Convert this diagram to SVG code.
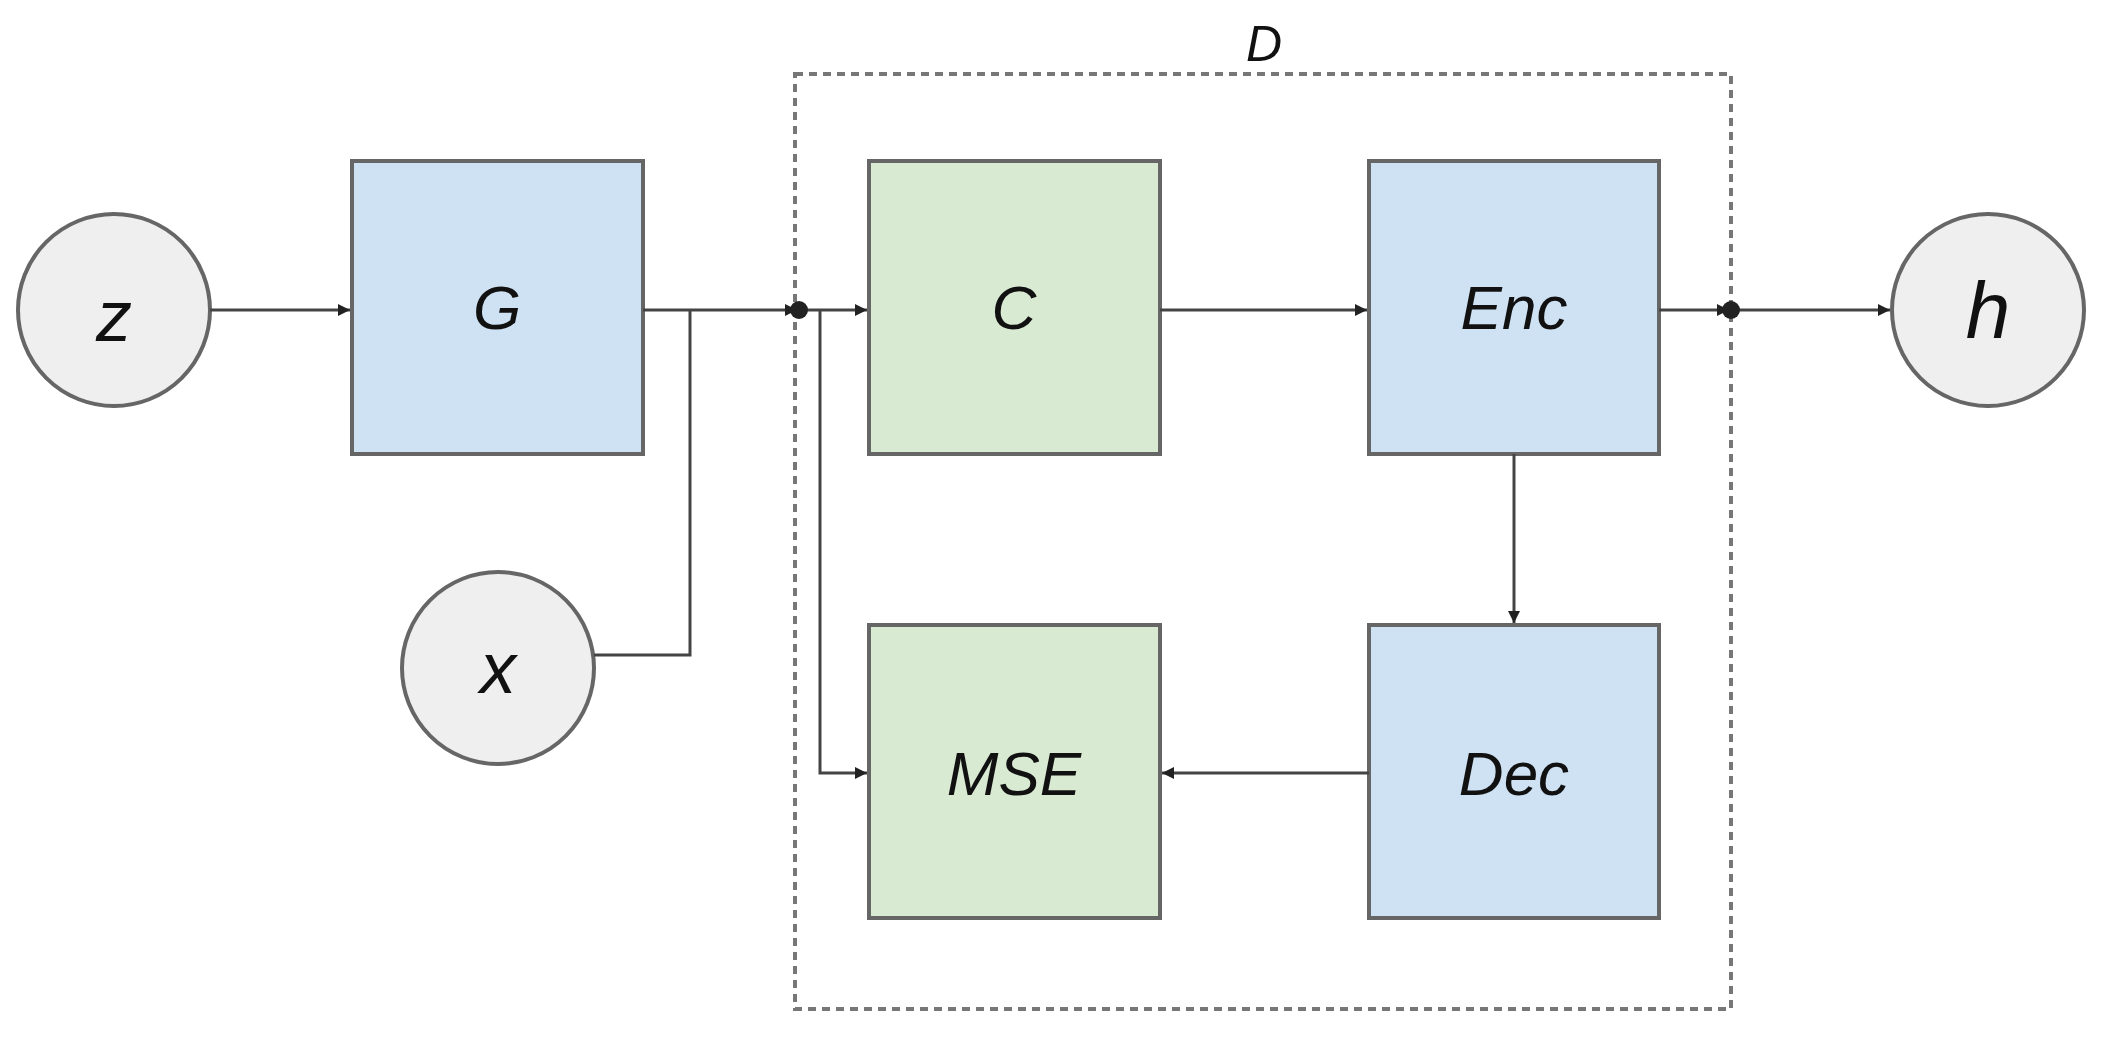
<svg xmlns="http://www.w3.org/2000/svg" width="2109" height="1037" viewBox="0 0 2109 1037">
<style>
.b{fill:#cfe2f3;stroke:#666;stroke-width:4}
.g{fill:#d9ead3;stroke:#666;stroke-width:4}
.c{fill:#efefef;stroke:#666;stroke-width:4}
.t{font-family:"Liberation Sans",sans-serif;font-style:italic;font-size:62px;fill:#111;text-anchor:middle;dominant-baseline:central}
.l{fill:none;stroke:#444;stroke-width:3}
</style>
<defs><marker id="a" viewBox="0 0 10 10" refX="10" refY="5" markerWidth="4" markerHeight="4" orient="auto"><path d="M0,0L10,5L0,10z" fill="#222"/></marker></defs>
<rect id="D" x="795" y="74" width="936" height="935" fill="none" stroke="#777" stroke-width="4" stroke-dasharray="8,6"/>
<text class="t" x="1264" y="44" style="font-size:50px">D</text>
<g id="z"><circle class="c" cx="114" cy="310" r="96"/><text class="t" x="114" y="316" style="font-size:72px">z</text></g>
<g id="x"><circle class="c" cx="498" cy="668" r="96"/><text class="t" x="498" y="668" style="font-size:72px">x</text></g>
<g id="h"><circle class="c" cx="1988" cy="310" r="96"/><text class="t" x="1988" y="310" style="font-size:80px">h</text></g>
<g id="G"><rect class="b" x="352" y="161" width="291" height="293"/><text class="t" x="497" y="307">G</text></g>
<g id="C"><rect class="g" x="869" y="161" width="291" height="293"/><text class="t" x="1014" y="307">C</text></g>
<g id="Enc"><rect class="b" x="1369" y="161" width="290" height="293"/><text class="t" x="1514" y="307">Enc</text></g>
<g id="MSE"><rect class="g" x="869" y="625" width="291" height="293"/><text class="t" x="1014" y="773">MSE</text></g>
<g id="Dec"><rect class="b" x="1369" y="625" width="290" height="293"/><text class="t" x="1514" y="773">Dec</text></g>
<g id="connectors">
<path class="l" d="M210,310H350" marker-end="url(#a)"/>
<path class="l" d="M643,310H797" marker-end="url(#a)"/>
<path class="l" d="M594,655H690V310"/>
<path class="l" d="M799,310H867" marker-end="url(#a)"/>
<path class="l" d="M820,310V773H867" marker-end="url(#a)"/>
<path class="l" d="M1160,310H1367" marker-end="url(#a)"/>
<path class="l" d="M1514,454V623" marker-end="url(#a)"/>
<path class="l" d="M1369,773H1162" marker-end="url(#a)"/>
<path class="l" d="M1659,310H1729" marker-end="url(#a)"/>
<path class="l" d="M1731,310H1890" marker-end="url(#a)"/>
<circle cx="799" cy="310" r="9" fill="#222"/>
<circle cx="1731" cy="310" r="9" fill="#222"/>
</g>
</svg>
